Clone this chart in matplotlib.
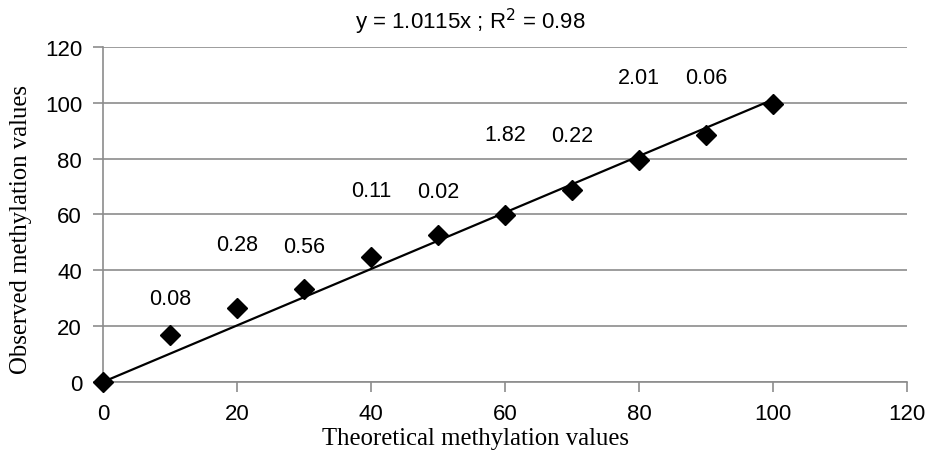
import matplotlib.pyplot as plt
import numpy as np

# data
theoretical = [0, 10, 20, 30, 40, 50, 60, 70, 80, 90, 100]
observed = [0, 16.8, 26.6, 33.4, 44.6, 52.6, 59.8, 68.8, 79.5, 88.5, 99.6]
slope = 1.0115
r2 = 0.98

# per-point labels and where they sit (data coords)
label_x = [10, 20, 30, 40, 50, 60, 70, 80, 90]
label_y = [29.8, 49.3, 48.7, 68.7, 68.1, 88.8, 88.2, 108.9, 108.9]
label_text = ["0.08", "0.28", "0.56", "0.11", "0.02", "1.82", "0.22", "2.01", "0.06"]

xticks = [0, 20, 40, 60, 80, 100, 120]
yticks = [0, 20, 40, 60, 80, 100, 120]

sans = ["Liberation Sans", "DejaVu Sans"]
serif = ["Liberation Serif", "DejaVu Serif"]
grey = "#8c8c8c"

fig = plt.figure(figsize=(9.35, 4.64), dpi=100)
ax = fig.add_axes([0.110, 0.1746, 0.860, 0.722])

ax.set_xlim(0, 120)
ax.set_ylim(0, 120)
ax.set_xticks(xticks)
ax.set_yticks(yticks)
ax.set_xticklabels([str(t) for t in xticks], family=sans, fontsize=16)
ax.set_yticklabels([str(t) for t in yticks], family=sans, fontsize=16)

ax.yaxis.grid(True, color=grey, linewidth=1.2)
ax.set_axisbelow(True)
for s in ("top", "right"):
    ax.spines[s].set_visible(False)
for s in ("left", "bottom"):
    ax.spines[s].set_color(grey)
    ax.spines[s].set_linewidth(1.2)
ax.tick_params(axis="both", colors=grey, length=7, width=1.2, direction="out",
               labelcolor="black")
ax.tick_params(axis="x", pad=8)
ax.tick_params(axis="y", pad=8)

# regression line
fit_x = np.array([0, 100])
ax.plot(fit_x, slope * fit_x, color="black", linewidth=1.6, zorder=3)

# points
ax.plot(theoretical, observed, linestyle="none", marker="D", markersize=10,
        color="black", zorder=4, clip_on=False)

for x, y, t in zip(label_x, label_y, label_text):
    ax.text(x, y, t, ha="center", va="center", fontsize=15.5, family=sans)

fig.text(0.503, 0.952, "y = 1.0115x ; R$^2$ = 0.98", ha="center", va="center",
         fontsize=16, family=sans)

ax.set_xlabel("Theoretical methylation values", family=serif, fontsize=17.8)
ax.xaxis.set_label_coords(0.463, -0.135)
ax.set_ylabel("Observed methylation values", family=serif, fontsize=17.8)
ax.yaxis.set_label_coords(-0.088, 0.457)

fig.savefig("out.png", dpi=100)
